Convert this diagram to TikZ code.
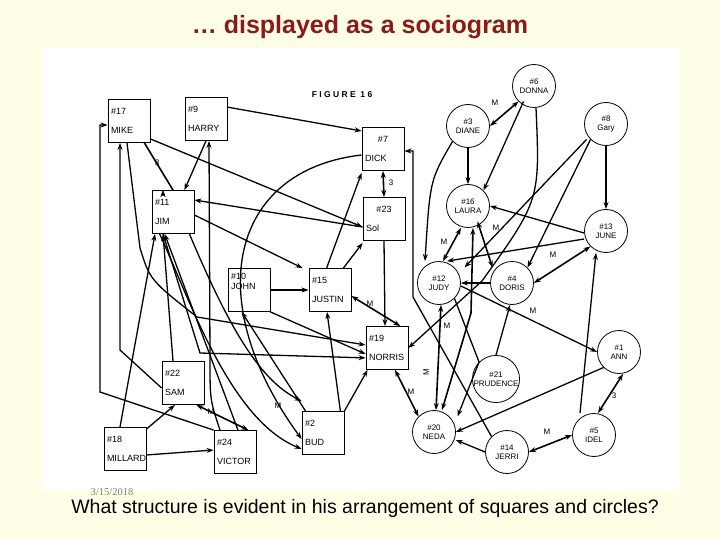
\documentclass[tikz,border=0pt]{standalone}
\usepackage{fontspec}
\setmainfont{Liberation Sans}
\newfontfamily\datefont{Liberation Serif}
\usetikzlibrary{arrows.meta}
\definecolor{bg}{HTML}{FFFFE8}
\definecolor{ttl}{HTML}{8B1A1A}
\begin{document}
\begin{tikzpicture}[x=1pt,y=-1pt,
 sq/.style={draw,line width=0.8pt,minimum width=42pt,minimum height=43pt,inner sep=2pt,align=left,text width=36pt,font=\fontsize{9}{10}\selectfont},
 ci/.style={draw,circle,line width=0.8pt,minimum size=43pt,inner sep=0pt,align=center,font=\fontsize{8}{9}\selectfont},
 ar/.style={-{Stealth[length=7pt,width=5pt]},line width=1.3pt},
 ba/.style={{Stealth[length=7pt,width=5pt]}-{Stealth[length=7pt,width=5pt]},line width=1.6pt},
 pl/.style={line width=1.3pt},
 lb/.style={font=\fontsize{8}{9}\selectfont,inner sep=1pt}]
\fill[bg] (0,0) rectangle (720,540);
\useasboundingbox (0,0) rectangle (720,540);
\fill[white] (42,48) rectangle (680,490);
\node[font=\bfseries\fontsize{25}{30}\selectfont,text=ttl] (title) at (360,27) {… displayed as a sociogram};
\node[font=\datefont\fontsize{10.5}{11}\selectfont,text=gray,inner sep=0pt] (date) at (112,492) {3/15/2018};
\node[font=\fontsize{19.5}{22}\selectfont,inner sep=0pt] (q) at (365,508) {What structure is evident in his arrangement of squares and circles?};
\node[font=\bfseries\fontsize{8.5}{10}\selectfont] (fig) at (342,95) {F I G U R E \ 1 6};
% squares
\node[sq] (mike) at (129,121) {\#17\\[9pt]MIKE};
\node[sq] (harry) at (206,119) {\#9\\[9pt]HARRY};
\node[sq] (dick) at (383,149) {\hfill\#7\hfill\null\\[9pt]DICK};
\node[sq] (sol) at (384,219) {\hfill\#23\hfill\null\\[9pt]Sol};
\node[sq] (jim) at (173,212) {\#11\\[9pt]JIM};
\node[sq] (john) at (249,290) {\#10\\JOHN\\[8pt]\null};
\node[sq] (justin) at (330,290) {\#15\\[9pt]JUSTIN};
\node[sq] (norris) at (387,348) {\#19\\[9pt]NORRIS};
\node[sq] (sam) at (183,383) {\#22\\[9pt]SAM};
\node[sq] (millard) at (125,449) {\#18\\[9pt]MILLARD};
\node[sq] (victor) at (235,452) {\#24\\[9pt]VICTOR};
\node[sq] (bud) at (323,433) {\#2\\[9pt]BUD};
% circles
\node[ci] (donna) at (534,86) {\#6\\DONNA};
\node[ci] (diane) at (468,126) {\#3\\DIANE};
\node[ci] (gary) at (606,124) {\#8\\Gary};
\node[ci] (laura) at (468,206) {\#16\\LAURA};
\node[ci] (june) at (606,231) {\#13\\JUNE};
\node[ci] (judy) at (439,283) {\#12\\JUDY};
\node[ci] (doris) at (512,283) {\#4\\DORIS};
\node[ci] (ann) at (619,352) {\#1\\ANN};
\node[ci] (prud) at (496,379) {\#21\\PRUDENCE};
\node[ci] (neda) at (434,432) {\#20\\NEDA};
\node[ci] (jerri) at (507,452) {\#14\\JERRI};
\node[ci] (idel) at (594,435) {\#5\\IDEL};
% left side edges
\draw[ar] (harry.north east) ++(0,10) coordinate (h1) -- (dick.north west |- 0,131) coordinate (d1);
\draw[ba] (mike.south east) ++(-6,0) coordinate (m1) -- (jim.north) ++(-10,0) coordinate (j1);
\node[lb] (l3a) at (157,163) {3};
\draw[ar] (harry.south) -- ([xshift=-10pt]jim.north east);
\draw[ar] ([yshift=4pt]mike.south east) -- ([yshift=-8pt]sol.west);
\draw[ar] ([yshift=-7pt]sol.south west |- 0,220) coordinate (s1) -- ([yshift=12pt]jim.east);
\draw[ar] ([yshift=-3pt]jim.east) -- ([xshift=-6pt]justin.north west);
\draw[ar] ([xshift=18pt]justin.north west) -- ([yshift=-2pt]dick.south west);
\draw[ar] ([xshift=-8pt]justin.north east) -- ([yshift=-2pt]sol.south west);
\draw[ba] (dick.south) ++(0,0) coordinate (d2) -- (sol.north);
\node[lb] (l3b) at (391,183) {3};
\draw[ar] (sol.south) -- ([xshift=-2pt]norris.north);
\draw[ba] ([yshift=-6pt]justin.east) -- ([xshift=-8pt]norris.north east);
\node[lb] (lm1) at (370,304) {M};
% curves into BUD
\draw[ar] ([yshift=-6pt]dick.west) .. controls (230,170) and (200,300) .. ([yshift=-6pt]bud.west);
\draw[ar] ([xshift=-5pt]jim.south east) .. controls (230,330) and (260,380) .. ([yshift=10pt]bud.north west);
\draw[ar] ([xshift=8pt]jim.south west) .. controls (190,300) and (230,420) .. ([yshift=6pt]bud.south west);
\node[lb] (lm2) at (278,406) {M};
% long left lines
\coordinate (v1) at (100,392);
\coordinate (v1t) at (100,125);
\draw[ar] (victor.north west) -- (v1) -- (v1t) -- (mike.west |- v1t);
\coordinate (v2) at (120,350);
\draw[ar] ([yshift=-5pt]sam.west) -- (v2) -- (mike.south west -| v2);
\coordinate (v3a) at (140,248); \coordinate (v3b) at (197,317);
\draw[ar] ([xshift=-2pt]mike.south) -- (v3a) .. controls (150,280) .. (v3b) -- ([yshift=3pt]norris.west);
\coordinate (v4) at (200,353);
\draw[ar] ([xshift=-10pt]jim.south) -- (v4) -- ([yshift=12pt]norris.south west);
\draw[ar] ([xshift=-5pt]millard.north) -- ([xshift=-18pt]jim.south);
\draw[ar] ([xshift=-10pt]sam.north) -- ([xshift=-10pt]jim.south);
\draw[ar] ([xshift=3pt]victor.north) -- ([xshift=13pt]jim.south west);
\coordinate (v5) at (210,360);
\draw[ar] ([xshift=-15pt]victor.north) .. controls (210,400) .. (v5) -- ([xshift=3pt]harry.south);
% JOHN, BUD
\draw[ar] (john.east) -- (justin.west);
\draw[ar] (john.south east) -- ([yshift=-6pt]norris.west);
\draw[ar] ([xshift=4pt]bud.north west) -- ([xshift=14pt]john.south west);
\draw[ar] ([xshift=-4pt]bud.north east) -- ([xshift=-3pt]justin.south);
\draw[ar] (bud.north east) -- ([xshift=2pt]norris.south west);
\draw[ar] ([yshift=-2pt]millard.north east) -- ([xshift=-8pt]sam.south);
\draw[ar] ([yshift=-6pt]millard.east) -- ([yshift=2pt]victor.west);
\draw[ba] ([xshift=-8pt]sam.south east) -- ([xshift=-8pt]victor.north east);
\node[lb] (lm3) at (211,412) {M};
% right side
\draw[ba] (donna.south west) -- (diane.east);
\node[lb] (lm4) at (495,103) {M};
\draw[ar] (diane.south) -- (laura.north);
\draw[ar] ([xshift=5pt]donna.south west) -- (laura.north east);
\draw[ar] (diane.south west) .. controls (430,180) .. ([xshift=-14pt]judy.north);
\coordinate (dn1) at (482,281);
\draw[ar] ([xshift=2pt]donna.south) .. controls (540,200) .. (dn1) -- (norris.east);
\draw[ar] (gary.south) -- (june.north);
\draw[ar] (gary.south west) -- (doris.north east);
\draw[ar] ([xshift=-4pt]gary.south west) -- ([xshift=10pt]judy.north east);
\draw[ar] ([yshift=-2pt]june.west) -- (laura.east);
\draw[ar] ([yshift=-8pt]june.west) -- ([xshift=8pt]judy.north);
\draw[ba] ([xshift=-7pt]laura.south) -- ([xshift=4pt]judy.north);
\node[lb] (lm5) at (444,242) {M};
\draw[ba] ([xshift=-6pt]laura.south east) -- ([xshift=-4pt]doris.north west);
\node[lb] (lm6) at (496,228) {M};
\draw[ba] (doris.east) -- (june.south west);
\node[lb] (lm7) at (553,255) {M};
\coordinate (n1) at (471,313);
\draw[ba] ([xshift=5pt]laura.south) -- (n1) -- ([xshift=8pt]neda.north);
\draw[ar] (idel.north) ++(-14pt,0) -- ([xshift=-10pt]june.south);
\draw[ar] (doris.west) -- (judy.east);
\draw[ba] ([xshift=2pt]judy.south) -- ([xshift=2pt]neda.north);
\node[lb,rotate=90] (lm8) at (426,372) {M};
\draw[ar] ([yshift=-3pt]judy.east) -- (ann.west);
\node[lb] (lm9) at (533,311) {M};
\draw[ar] (prud.north) -- ([xshift=-2pt]doris.south);
\draw[ar] (prud.north west) -- ([xshift=8pt]neda.north east);
\draw[pl] (judy.south east) -- (prud.north west);
\draw[ar] (ann.south west) -- (neda.east);
\draw[ba] ([xshift=4pt]ann.south) -- ([xshift=4pt]idel.north);
\node[lb] (l3c) at (614,396) {3};
\draw[ar] (jerri.west) -- ([yshift=-8pt]neda.east);
\draw[ba] (jerri.east) -- (idel.west);
\node[lb] (lm10) at (547,432) {M};
\draw[ba] ([xshift=8pt]norris.south) -- (neda.north west);
\node[lb] (lm11) at (411,392) {M};
\node[lb] (lm12) at (447,326) {M};
\coordinate (jr1) at (413,297);
\coordinate (jr2) at (413,151);
\draw[ar] (jerri.north west) -- (jr1) -- (jr2) -- (dick.east |- jr2);
\end{tikzpicture}
\end{document}
